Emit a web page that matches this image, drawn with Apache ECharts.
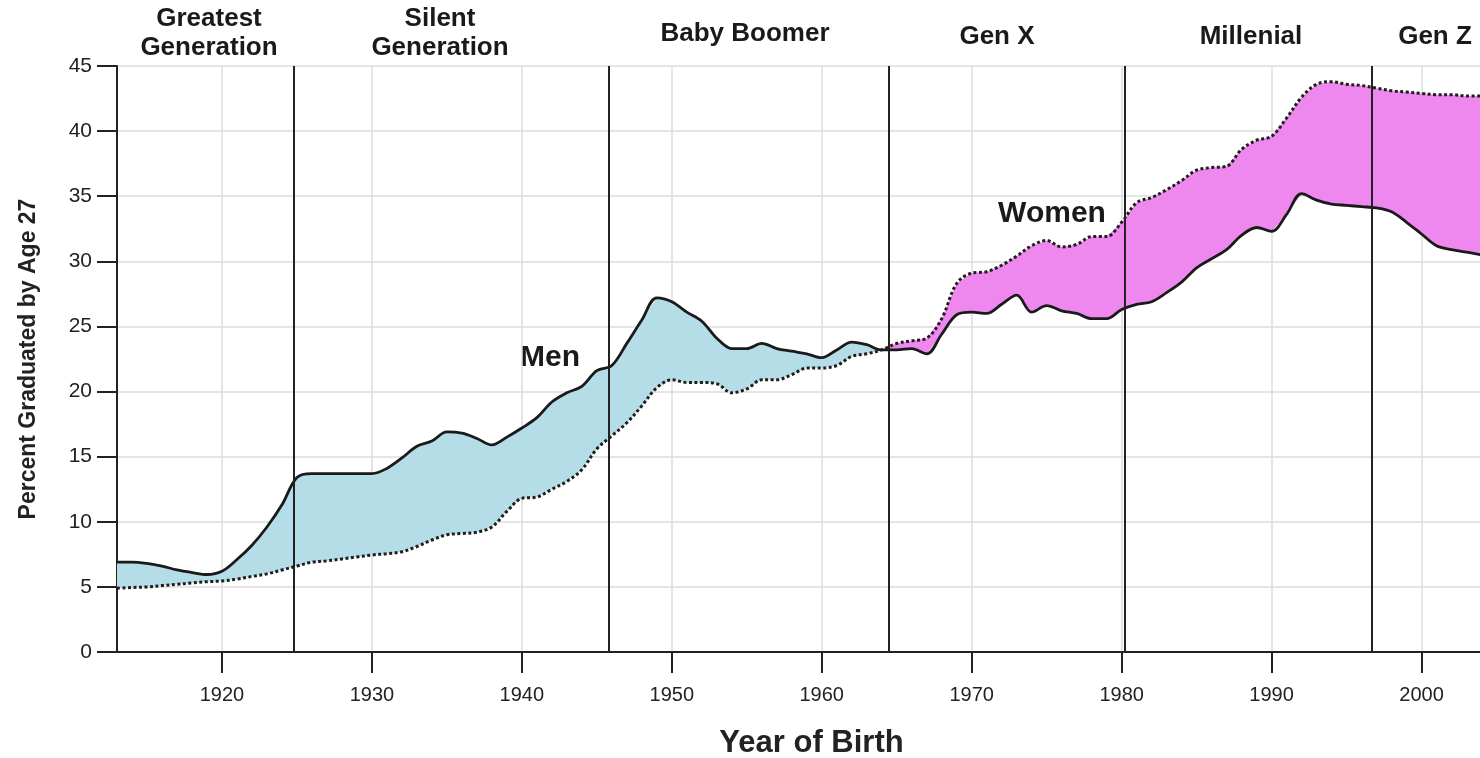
<!DOCTYPE html>
<html>
<head>
<meta charset="utf-8">
<title>Percent Graduated by Age 27</title>
<script src="https://cdn.jsdelivr.net/npm/echarts@6/dist/echarts.min.js"></script>
<style>
  html, body { margin: 0; padding: 0; background: #fff; }
  #chart { width: 1480px; height: 758px; }
</style>
</head>
<body>
<div id="chart"></div>
<script>
// 出生年份
const years = [];
for (let y = 1913; y <= 2004; y++) years.push(y);

// 男性 (实线)
const men = [
  6.9, 6.9, 6.8, 6.6, 6.3, 6.1, 5.95, 6.2, 7.1, 8.2,
  9.6, 11.3, 13.4, 13.7, 13.7, 13.7, 13.7, 13.7, 14.1, 14.9,
  15.8, 16.2, 16.9, 16.8, 16.4, 15.9, 16.5, 17.2, 18.0, 19.2,
  19.9, 20.4, 21.6, 22.0, 23.7, 25.5, 27.2, 26.9, 26.1, 25.4,
  24.1, 23.3, 23.3, 23.7, 23.3, 23.1, 22.9, 22.6, 23.2, 23.8,
  23.6, 23.2, 23.2, 23.3, 22.9, 24.4, 25.9, 26.1, 26.0, 26.7,
  27.4, 26.1, 26.6, 26.2, 26.0, 25.6, 25.6, 26.3, 26.7, 26.9,
  27.6, 28.4, 29.5, 30.2, 30.9, 32.0, 32.6, 32.3, 33.6, 35.2,
  34.7, 34.4, 34.3, 34.2, 34.1, 33.8, 33.0, 32.1, 31.2, 30.9,
  30.7, 30.5
];

// 女性 (虚线)
const women = [
  4.9, 4.95, 5.0, 5.1, 5.2, 5.3, 5.4, 5.45, 5.6, 5.8,
  6.0, 6.3, 6.6, 6.9, 7.0, 7.15, 7.3, 7.45, 7.55, 7.7,
  8.1, 8.6, 9.0, 9.1, 9.2, 9.6, 10.8, 11.8, 11.9, 12.5,
  13.1, 14.0, 15.6, 16.6, 17.6, 18.9, 20.3, 20.9, 20.7, 20.7,
  20.6, 19.9, 20.2, 20.9, 20.9, 21.3, 21.8, 21.8, 22.0, 22.7,
  22.9, 23.2, 23.7, 23.9, 24.1, 25.6, 28.3, 29.1, 29.2, 29.7,
  30.4, 31.2, 31.6, 31.1, 31.3, 31.9, 31.9, 33.0, 34.5, 34.9,
  35.5, 36.2, 37.0, 37.2, 37.3, 38.6, 39.3, 39.6, 41.0, 42.6,
  43.6, 43.8, 43.6, 43.5, 43.3, 43.1, 43.0, 42.9, 42.8, 42.8,
  42.7, 42.7
];

// 世代分界 / 名称
const genBounds = [1924.8, 1945.8, 1964.5, 1980.2, 1996.7];
const genNames  = ['Greatest\nGeneration', 'Silent\nGeneration', 'Baby Boomer', 'Gen X', 'Millenial', 'Gen Z'];
const xTicks    = [1920, 1930, 1940, 1950, 1960, 1970, 1980, 1990, 2000];

// 填充区域: [起始年, 结束年, 颜色]  (男>女 蓝, 女>男 粉)
const bands = [
  [1913, 1964, '#b4dde8'],
  [1964, 2004, '#ee88ee']
];

const FONT = "'Liberation Sans', Arial, sans-serif";
const SMOOTH = 0.35;

const menData   = men.map((m, i) => [years[i], m]);
const womenData = women.map((w, i) => [years[i], w]);

// 两条线之间的填充多边形
function renderBand(params, api) {
  const band = bands[params.dataIndex];
  const i0 = years.indexOf(band[0]);
  const i1 = years.indexOf(band[1]);
  const pts = [];
  for (let i = i0; i <= i1; i++) pts.push(api.coord([years[i], men[i]]));
  for (let i = i1; i >= i0; i--) pts.push(api.coord([years[i], women[i]]));
  return {
    type: 'polygon',
    shape: { points: pts },
    style: { fill: band[2], stroke: null },
    silent: true
  };
}

const chart = echarts.init(document.getElementById('chart'));
const option = {
  animation: false,
  backgroundColor: '#fff',
  grid: { left: 117, right: 0, top: 66, bottom: 106, outerBoundsMode: 'none', containLabel: false },
  xAxis: {
    type: 'value',
    min: 1913,
    max: 2003.9,
    name: 'Year of Birth',
    nameLocation: 'middle',
    nameGap: 76,
    nameTextStyle: { fontFamily: FONT, fontSize: 31, fontWeight: 'bold', color: '#222', padding: [0, 0, 0, 26] },
    axisLine: { lineStyle: { color: '#222', width: 2 } },
    axisTick: { show: true, length: 21, customValues: xTicks, lineStyle: { color: '#222', width: 2 } },
    axisLabel: { customValues: xTicks, formatter: v => String(v), fontFamily: FONT, fontSize: 20, color: '#222', margin: 33 },
    splitLine: { show: true, lineStyle: { color: '#dcdcdc', width: 1.5 } }
  },
  yAxis: {
    type: 'value',
    min: 0,
    max: 45,
    interval: 5,
    name: 'Percent Graduated by Age 27',
    nameLocation: 'middle',
    nameGap: 77,
    nameTextStyle: { fontFamily: FONT, fontSize: 23, fontWeight: 'bold', color: '#222' },
    axisLine: { show: true, lineStyle: { color: '#222', width: 2 } },
    axisTick: { show: true, length: 20, lineStyle: { color: '#222', width: 2 } },
    axisLabel: { fontFamily: FONT, fontSize: 21, color: '#222', margin: 25 },
    splitLine: { show: true, lineStyle: { color: '#dcdcdc', width: 1.5 } }
  },
  series: [
    {
      type: 'custom',
      clip: true,
      silent: true,
      renderItem: renderBand,
      data: bands.map(b => [b[0], 0])
    },
    {
      name: 'Women', type: 'line', data: womenData, smooth: SMOOTH,
      symbol: 'none', silent: true, z: 3,
      lineStyle: { color: '#1e1e1e', width: 3, type: [3, 2.5] }
    },
    {
      name: 'Men', type: 'line', data: menData, smooth: SMOOTH,
      symbol: 'none', silent: true, z: 3,
      lineStyle: { color: '#1a1a1a', width: 2.8 },
      markLine: {
        silent: true,
        symbol: 'none',
        label: { show: false },
        lineStyle: { color: '#222', width: 2, type: 'solid' },
        data: genBounds.map(v => ({ xAxis: v }))
      }
    }
  ],
  graphic: [
    { x: 209, y: 33, name: genNames[0], lh: 29 },
    { x: 440, y: 33, name: genNames[1], lh: 29 },
    { x: 745, y: 34, name: genNames[2] },
    { x: 997, y: 37, name: genNames[3] },
    { x: 1251, y: 37, name: genNames[4] },
    { x: 1435, y: 37, name: genNames[5] }
  ].map(g => ({
    type: 'text', x: g.x, y: g.y, silent: true,
    style: {
      text: g.name, fontFamily: FONT, fontSize: 26, fontWeight: 'bold', fill: '#1a1a1a',
      align: 'center', verticalAlign: 'middle', lineHeight: g.lh || 30
    }
  })).concat([
    { type: 'text', x: 550, y: 358, silent: true,
      style: { text: 'Men', fontFamily: FONT, fontSize: 30, fontWeight: 'bold', fill: '#1a1a1a', align: 'center', verticalAlign: 'middle' } },
    { type: 'text', x: 1052, y: 214, silent: true,
      style: { text: 'Women', fontFamily: FONT, fontSize: 30, fontWeight: 'bold', fill: '#1a1a1a', align: 'center', verticalAlign: 'middle' } }
  ])
};
chart.setOption(option);
</script>
</body>
</html>
